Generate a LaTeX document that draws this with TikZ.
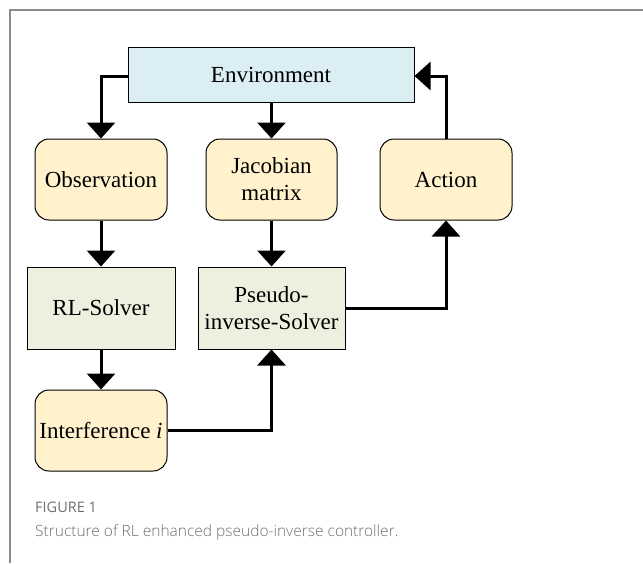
\documentclass[tikz,border=0pt]{standalone}
\usepackage{fontspec}
\setmainfont{Liberation Serif}
\newfontfamily\capfont{Open Sans}
\newfontfamily\capfontlight{Open Sans Light}
\usetikzlibrary{arrows.meta}
\definecolor{envblue}{HTML}{DAEEF3}
\definecolor{stepyellow}{HTML}{FFF2CC}
\definecolor{solvergreen}{HTML}{EBF1DE}
\definecolor{framegray}{HTML}{8C8C8C}
\definecolor{captiongray}{HTML}{6E6E6E}
\begin{document}
\begin{tikzpicture}[x=1pt,y=-1pt,
  boxbase/.style={draw=black,line width=1pt,inner sep=0pt,align=center,
    font=\fontsize{23}{27}\selectfont},
  envbox/.style={boxbase,fill=envblue},
  roundbox/.style={boxbase,fill=stepyellow,rounded corners=14pt},
  solverbox/.style={boxbase,fill=solvergreen},
  flow/.style={line width=3pt,-{Triangle[width=28pt,length=16pt]}}]
  \useasboundingbox (0,0) rectangle (643,563);
  % outer frame
  \draw[framegray,line width=1.5pt] (10,563) -- (10,10) -- (643,10);
  % boxes
  \node[envbox,minimum width=286pt,minimum height=55pt] (env) at (271,74.5) {Environment};
  \node[roundbox,minimum width=132pt,minimum height=81pt] (obs) at (101,179.5) {Observation};
  \node[roundbox,minimum width=131pt,minimum height=81pt] (jac) at (271.5,179.5) {Jacobian\\matrix};
  \node[roundbox,minimum width=132pt,minimum height=81pt] (act) at (446,179.5) {Action};
  \node[solverbox,minimum width=148pt,minimum height=82pt] (rl) at (101,308) {RL-Solver};
  \node[solverbox,minimum width=147pt,minimum height=82pt] (pinv) at (271.5,308) {Pseudo-\\inverse-Solver};
  \node[roundbox,minimum width=132pt,minimum height=81pt] (intf) at (101,430.5) {Interference \textit{i}};
  % connectors
  \draw[flow] (env.west |- 0,76) -| (obs.north);
  \draw[flow] (env.south -| jac.north) -- (jac.north);
  \draw[flow] (act.north) |- (env.east |- 0,76);
  \draw[flow] (obs.south) -- (rl.north);
  \draw[flow] (jac.south) -- (pinv.north);
  \draw[flow] (pinv.east) -| (act.south);
  \draw[flow] (rl.south) -- (intf.north);
  \draw[flow] (intf.east) -| (pinv.south);
  % caption
  \node[anchor=base west,inner sep=0pt,text=captiongray,font=\capfont\fontsize{14.5}{17}\selectfont] (fig) at (35,512) {FIGURE 1};
  \node[anchor=base west,inner sep=0pt,text=captiongray,font=\capfontlight\fontsize{15.5}{18}\selectfont] (cap) at (35,536) {Structure of RL enhanced pseudo-inverse controller.};
\end{tikzpicture}
\end{document}
